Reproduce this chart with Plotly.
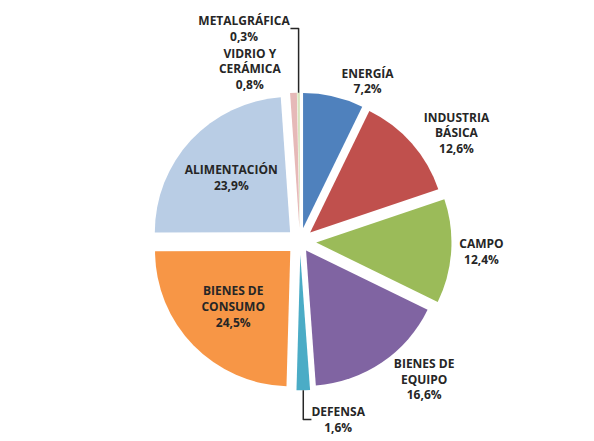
import plotly.graph_objects as go

categories = ["ENERGÍA", "INDUSTRIA<br>BÁSICA", "CAMPO", "BIENES DE<br>EQUIPO", "DEFENSA",
              "BIENES DE<br>CONSUMO", "ALIMENTACIÓN", "VIDRIO Y<br>CERÁMICA", "METALGRÁFICA"]
values = [7.2, 12.6, 12.4, 16.6, 1.6, 24.5, 23.9, 0.8, 0.3]
colors = ["#4F81BD", "#C0504D", "#9BBB59", "#8064A2", "#4BACC6",
          "#F79646", "#B9CDE5", "#E6B9B8", "#D7E4BD"]
positions = ["outside", "outside", "outside", "outside", "outside",
             "inside", "inside", "outside", "outside"]
pulls = [0.1, 0.1, 0.12, 0.08, 0.1, 0.1, 0.1, 0.1, 0.1]

texts = [f"<b>{c}<br>{str(v).replace('.', ',')}%</b>" for c, v in zip(categories, values)]

fig = go.Figure(go.Pie(
    labels=categories,
    values=values,
    text=texts,
    textinfo="text",
    textposition=positions,
    insidetextorientation="horizontal",
    marker=dict(colors=colors, line=dict(color="white", width=0)),
    pull=pulls,
    sort=False,
    direction="clockwise",
    rotation=0,
    showlegend=False,
    automargin=False,
    textfont=dict(family="Open Sans", size=12, color="#262626"),
    outsidetextfont=dict(family="Open Sans", size=12, color="#262626"),
    insidetextfont=dict(family="Open Sans", size=12, color="#262626"),
    domain=dict(x=[0.0, 1.0], y=[0.0, 1.0]),
))

fig.update_layout(
    width=594, height=441,
    margin=dict(l=10, r=20, t=82, b=56),
    paper_bgcolor="white",
    plot_bgcolor="white",
    font=dict(family="Open Sans", size=12, color="#262626"),
)

fig.write_html("out.html")
